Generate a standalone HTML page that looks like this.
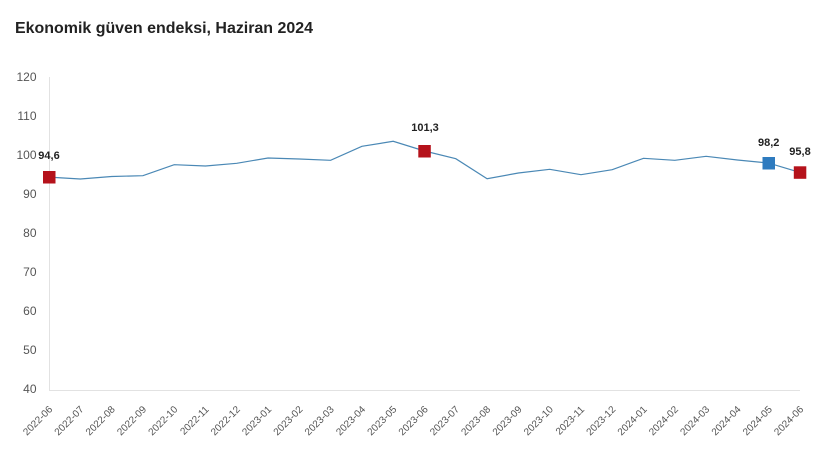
<!DOCTYPE html>
<html><head><meta charset="utf-8"><style>
html,body{margin:0;padding:0;background:#fff;}
body{width:823px;height:450px;overflow:hidden;}
svg{display:block;}
</style></head><body>
<svg width="823" height="450" viewBox="0 0 823 450" xmlns="http://www.w3.org/2000/svg" font-family="'Liberation Sans', sans-serif">
<text x="15" y="33" font-size="15.5" font-weight="bold" fill="#222" textLength="298" lengthAdjust="spacingAndGlyphs">Ekonomik güven endeksi, Haziran 2024</text>
<line x1="49.5" y1="77" x2="49.5" y2="390" stroke="#e2e2e2" stroke-width="1"/>
<line x1="49" y1="390.5" x2="800" y2="390.5" stroke="#e2e2e2" stroke-width="1"/>
<g font-size="12" fill="#555" text-anchor="end">
<text x="36.5" y="81">120</text>
<text x="36.5" y="120">110</text>
<text x="36.5" y="159">100</text>
<text x="36.5" y="198">90</text>
<text x="36.5" y="237">80</text>
<text x="36.5" y="276">70</text>
<text x="36.5" y="315">60</text>
<text x="36.5" y="354">50</text>
<text x="36.5" y="393">40</text>
</g>
<polyline fill="none" stroke="#4a88b5" stroke-width="1.2" points="49,177.1 80.3,179 111.6,176.5 142.9,175.7 174.2,164.7 205.5,166 236.7,163.3 268,158 299.3,159 330.6,160.3 361.9,146.3 393.2,141.3 424.5,151 455.8,158.7 487.1,178.7 518.4,173 549.7,169.3 581,174.7 612.2,169.7 643.5,158.3 674.8,160.3 706.1,156.3 737.4,160 768.7,163.1 800,172.4"/>
<rect x="43" y="171" width="12.5" height="12.5" fill="#b5121b"/>
<rect x="418.3" y="145" width="12.5" height="12.5" fill="#b5121b"/>
<rect x="762.5" y="157" width="12.5" height="12.5" fill="#2e7bbf"/>
<rect x="793.8" y="166.3" width="12.5" height="12.5" fill="#b5121b"/>
<g font-size="11" font-weight="bold" fill="#222" text-anchor="middle">
<text x="49" y="159">94,6</text>
<text x="425" y="131">101,3</text>
<text x="768.7" y="146">98,2</text>
<text x="800" y="155">95,8</text>
</g>
<g font-size="10" fill="#555" text-anchor="end">
<text transform="translate(53,410) rotate(-45)">2022-06</text>
<text transform="translate(84.3,410) rotate(-45)">2022-07</text>
<text transform="translate(115.6,410) rotate(-45)">2022-08</text>
<text transform="translate(146.9,410) rotate(-45)">2022-09</text>
<text transform="translate(178.2,410) rotate(-45)">2022-10</text>
<text transform="translate(209.5,410) rotate(-45)">2022-11</text>
<text transform="translate(240.7,410) rotate(-45)">2022-12</text>
<text transform="translate(272,410) rotate(-45)">2023-01</text>
<text transform="translate(303.3,410) rotate(-45)">2023-02</text>
<text transform="translate(334.6,410) rotate(-45)">2023-03</text>
<text transform="translate(365.9,410) rotate(-45)">2023-04</text>
<text transform="translate(397.2,410) rotate(-45)">2023-05</text>
<text transform="translate(428.5,410) rotate(-45)">2023-06</text>
<text transform="translate(459.8,410) rotate(-45)">2023-07</text>
<text transform="translate(491.1,410) rotate(-45)">2023-08</text>
<text transform="translate(522.4,410) rotate(-45)">2023-09</text>
<text transform="translate(553.7,410) rotate(-45)">2023-10</text>
<text transform="translate(585,410) rotate(-45)">2023-11</text>
<text transform="translate(616.2,410) rotate(-45)">2023-12</text>
<text transform="translate(647.5,410) rotate(-45)">2024-01</text>
<text transform="translate(678.8,410) rotate(-45)">2024-02</text>
<text transform="translate(710.1,410) rotate(-45)">2024-03</text>
<text transform="translate(741.4,410) rotate(-45)">2024-04</text>
<text transform="translate(772.7,410) rotate(-45)">2024-05</text>
<text transform="translate(804,410) rotate(-45)">2024-06</text>
</g>
</svg>
</body></html>
